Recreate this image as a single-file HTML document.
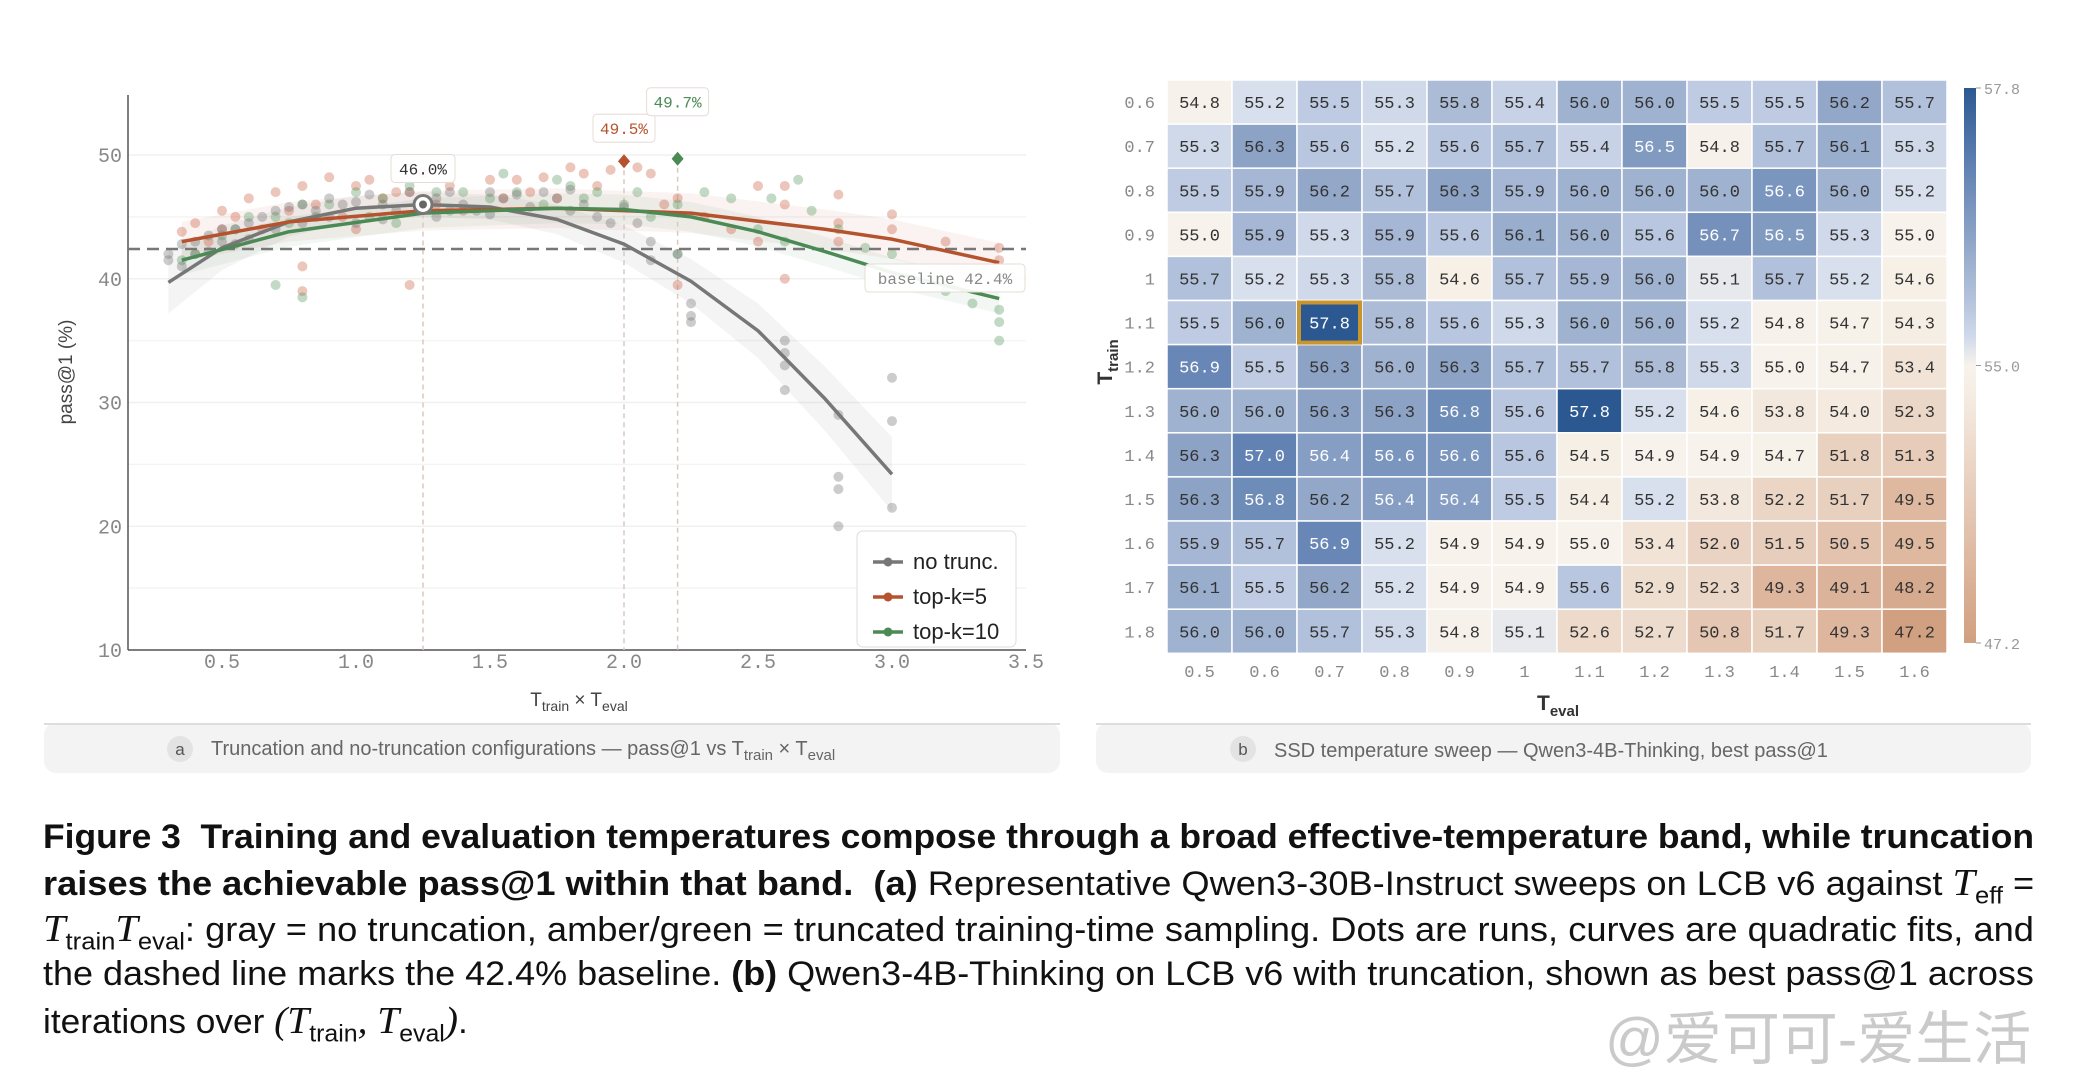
<!DOCTYPE html>
<html><head><meta charset="utf-8"><style>
body{margin:0;background:#fff;width:2085px;height:1080px;overflow:hidden;position:relative;font-family:"Liberation Sans",sans-serif}
svg{position:absolute;left:0;top:0}
.cap{position:absolute;left:43px;white-space:nowrap;font-size:34px;color:#111;transform-origin:0 50%;line-height:46px}
.m{font-family:"Liberation Serif",serif;font-style:italic;font-size:38px}
.m sub{font-family:"Liberation Sans",sans-serif;font-style:normal;font-size:24px}
</style></head><body>
<svg id="s" width="2085" height="1080" font-family="Liberation Mono, monospace"></svg>
<div class="cap" style="top:814px"><b>Figure 3&nbsp; Training and evaluation temperatures compose through a broad effective-temperature band, while truncation</b></div>
<div class="cap" style="top:860px"><b>raises the achievable pass@1 within that band.&nbsp; (a)</b> Representative Qwen3-30B-Instruct sweeps on LCB v6 against <span class="m">T<sub>eff</sub></span> =</div>
<div class="cap" style="top:906px"><span class="m">T<sub>train</sub>T<sub>eval</sub></span>: gray = no truncation, amber/green = truncated training-time sampling. Dots are runs, curves are quadratic fits, and</div>
<div class="cap" style="top:951px">the dashed line marks the 42.4% baseline. <b>(b)</b> Qwen3-4B-Thinking on LCB v6 with truncation, shown as best pass@1 across</div>
<div class="cap" style="top:998px">iterations over <span class="m">(T<sub>train</sub>, T<sub>eval</sub>)</span>.</div>
<div style="position:absolute;left:1605px;top:992px;font-size:58px;color:rgba(150,150,150,0.5);font-family:'Liberation Sans','Noto Sans CJK SC',sans-serif">@爱可可-爱生活</div>
<script>
// ---- panel a data ----
const grayX=[0.3,0.3,0.35,0.35,0.4,0.4,0.45,0.45,0.5,0.5,0.55,0.55,0.6,0.6,0.65,0.7,0.7,0.75,0.8,0.8,0.85,0.9,0.9,0.95,1.0,1.0,1.05,1.1,1.1,1.15,1.2,1.25,1.3,1.3,1.35,1.4,1.45,1.5,1.5,1.55,1.6,1.65,1.7,1.75,1.8,1.8,1.85,1.9,1.95,2.0,2.05,2.1,2.1,2.2,2.25,2.25,2.25,2.6,2.6,2.6,2.6,2.8,2.8,2.8,2.8,3.0,3.0,3.0];
const grayY=[42,41.5,42.8,41,43,42,43.5,42.2,44,43,44,42.8,44.5,43.2,45,45.5,44,45.8,46,44.5,45.5,46.5,45,46,46.2,44.5,46.8,46,44.8,45.5,47,46,46.5,45,47,46,45.5,47,45.2,46.5,46.8,45.8,47,46.5,47.2,45.5,46,45,44.5,45.8,44.5,43,41.5,42,38,37,36.5,35,34,33,31,29,24,23,20,32,28.5,21.5];
const orangeX=[0.35,0.4,0.45,0.5,0.5,0.55,0.6,0.65,0.7,0.75,0.8,0.8,0.85,0.9,0.95,1.0,1.0,1.05,1.1,1.15,1.2,1.25,1.3,1.35,1.4,1.5,1.55,1.6,1.65,1.7,1.75,1.8,1.85,1.9,1.95,2.05,2.1,2.15,2.2,2.2,2.3,2.4,2.5,2.5,2.6,2.6,2.6,2.8,2.8,2.8,3.0,3.0,3.2,3.4,3.4,0.8,1.2];
const orangeY=[43.8,44.5,43,45.5,44,45,46.5,44,47,45.5,47.5,41,46,48.2,45,47.5,44,48,46.5,47,47,48.5,46,47.5,45.5,48,46.5,48,47,48.2,46.5,49,48.5,47.5,48.8,49,48.5,46,46.5,39.5,45,44,47.5,43,47.5,46,40,46.8,44.5,43,45.2,44,43,42.5,41.5,39,39.5];
const greenX=[0.35,0.4,0.5,0.55,0.6,0.7,0.75,0.8,0.85,0.9,1.0,1.05,1.1,1.15,1.2,1.25,1.3,1.35,1.4,1.5,1.55,1.6,1.7,1.75,1.8,1.85,1.9,2.0,2.05,2.1,2.2,2.2,2.3,2.4,2.5,2.55,2.6,2.65,2.7,2.8,2.9,3.0,3.0,3.2,3.3,3.4,3.4,3.4,0.8,0.7];
const greenY=[41.5,42,43.5,44,45,45,44.5,46,45,46,47,45,46.5,44.5,47.5,46,47,45.5,47,46.5,48.5,47,46,48,47.5,46.5,47,46,47,45,46,42,47,46.5,44,46.5,43,48,45.5,44,42.5,42,40,39,38,37.5,36.5,35,38.5,39.5];
const grayFitX=[0.3,0.5,0.75,1.0,1.25,1.5,1.75,2.0,2.25,2.5,2.75,3.0];
const grayFitY=[39.7,42.5,44.6,45.7,46.0,45.8,44.8,42.8,39.8,35.8,30.3,24.2];
const grayBand=[2.5,1.8,1.2,1,1,1,1.2,1.5,1.8,2.2,2.6,3];
const orangeFitX=[0.35,0.75,1.25,1.75,2.25,2.75,3.0,3.4];
const orangeFitY=[43.0,44.6,45.5,45.7,45.3,44.0,43.2,41.3];
const greenFitX=[0.35,0.75,1.25,1.75,2.0,2.25,2.5,2.75,3.0,3.4];
const greenFitY=[41.5,43.8,45.3,45.7,45.6,45.0,43.8,42.2,40.5,38.4];
const xTicks=[0.5,1.0,1.5,2.0,2.5,3.0,3.5];
const yTicks=[10,20,30,40,50];
const baseline=42.4;
const peaks=[{x:1.25,y:46.0,label:"46.0%",c:"#444"},{x:2.0,y:49.5,label:"49.5%",c:"#b5532e"},{x:2.2,y:49.7,label:"49.7%",c:"#4b8a55"}];
// ---- panel b data ----
const evalTemps=["0.5","0.6","0.7","0.8","0.9","1","1.1","1.2","1.3","1.4","1.5","1.6"];
const trainTemps=["0.6","0.7","0.8","0.9","1","1.1","1.2","1.3","1.4","1.5","1.6","1.7","1.8"];
const heat=[
[54.8,55.2,55.5,55.3,55.8,55.4,56.0,56.0,55.5,55.5,56.2,55.7],
[55.3,56.3,55.6,55.2,55.6,55.7,55.4,56.5,54.8,55.7,56.1,55.3],
[55.5,55.9,56.2,55.7,56.3,55.9,56.0,56.0,56.0,56.6,56.0,55.2],
[55.0,55.9,55.3,55.9,55.6,56.1,56.0,55.6,56.7,56.5,55.3,55.0],
[55.7,55.2,55.3,55.8,54.6,55.7,55.9,56.0,55.1,55.7,55.2,54.6],
[55.5,56.0,57.8,55.8,55.6,55.3,56.0,56.0,55.2,54.8,54.7,54.3],
[56.9,55.5,56.3,56.0,56.3,55.7,55.7,55.8,55.3,55.0,54.7,53.4],
[56.0,56.0,56.3,56.3,56.8,55.6,57.8,55.2,54.6,53.8,54.0,52.3],
[56.3,57.0,56.4,56.6,56.6,55.6,54.5,54.9,54.9,54.7,51.8,51.3],
[56.3,56.8,56.2,56.4,56.4,55.5,54.4,55.2,53.8,52.2,51.7,49.5],
[55.9,55.7,56.9,55.2,54.9,54.9,55.0,53.4,52.0,51.5,50.5,49.5],
[56.1,55.5,56.2,55.2,54.9,54.9,55.6,52.9,52.3,49.3,49.1,48.2],
[56.0,56.0,55.7,55.3,54.8,55.1,52.6,52.7,50.8,51.7,49.3,47.2]];
const cbTicks=[57.8,55.0,47.2];
const best={r:5,c:2};

const S=document.getElementById('s');const NS="http://www.w3.org/2000/svg";
function E(t,a,p){const e=document.createElementNS(NS,t);for(const k in a)e.setAttribute(k,a[k]);(p||S).appendChild(e);return e;}
const X=v=>222+(v-0.5)*268, Y=v=>650-(v-10)*12.375;

let g=E('g',{});
E('rect',{x:44,y:723,width:1016,height:50,rx:12,fill:'#f3f3f3'},g);E('line',{x1:44,x2:1060,y1:724,y2:724,stroke:'#ddd','stroke-width':2},g);
E('circle',{cx:180,cy:749,r:13,fill:'#e3e3e3'},g);
let t=E('text',{x:180,y:755,'text-anchor':'middle','font-size':17,fill:'#555','font-family':'Liberation Sans'},g);t.textContent='a';
t=E('text',{x:211,y:755,'font-size':20,fill:'#666','font-family':'Liberation Sans'},g);t.innerHTML='Truncation and no-truncation configurations — pass@1 vs T<tspan dy="5" font-size="15">train</tspan><tspan dy="-5"> × T</tspan><tspan dy="5" font-size="15">eval</tspan>';
g=E('g',{});
E('rect',{x:1096,y:723,width:935,height:50,rx:12,fill:'#f3f3f3'},g);E('line',{x1:1096,x2:2031,y1:724,y2:724,stroke:'#ddd','stroke-width':2},g);
E('circle',{cx:1243,cy:749,r:13,fill:'#e3e3e3'},g);
t=E('text',{x:1243,y:755,'text-anchor':'middle','font-size':17,fill:'#555','font-family':'Liberation Sans'},g);t.textContent='b';
t=E('text',{x:1274,y:757,'font-size':20,fill:'#666','font-family':'Liberation Sans'},g);t.textContent='SSD temperature sweep — Qwen3-4B-Thinking, best pass@1';

yTicks.forEach(v=>{E('line',{x1:128,x2:1026,y1:Y(v),y2:Y(v),stroke:'#f0f0f0','stroke-width':1.5});
 const tt=E('text',{x:122,y:Y(v)+7,'text-anchor':'end','font-size':20,fill:'#888'});tt.textContent=v;
 });
[15,25,35,45].forEach(v=>E('line',{x1:128,x2:1026,y1:Y(v),y2:Y(v),stroke:'#f4f4f4','stroke-width':1.5}));
xTicks.forEach(v=>{const tt=E('text',{x:X(v),y:668,'text-anchor':'middle','font-size':20,fill:'#888'});tt.textContent=v.toFixed(1);
 });
E('line',{x1:128,x2:128,y1:95,y2:650,stroke:'#555','stroke-width':1.5});
E('line',{x1:128,x2:1026,y1:650,y2:650,stroke:'#555','stroke-width':1.5});
t=E('text',{x:579,y:706,'text-anchor':'middle','font-size':19,fill:'#444','font-family':'Liberation Sans'});t.innerHTML='T<tspan dy="5" font-size="14">train</tspan><tspan dy="-5"> × T</tspan><tspan dy="5" font-size="14">eval</tspan>';

t=E('text',{x:72,y:372,'text-anchor':'middle','font-size':19,fill:'#444','font-family':'Liberation Sans',transform:'rotate(-90 72 372)'});t.textContent='pass@1 (%)';


function band(xs,ys,ws,fill){let up=xs.map((x,i)=>X(x)+','+Y(ys[i]+ws[i])),dn=xs.map((x,i)=>X(x)+','+Y(ys[i]-ws[i])).reverse();
 const p=E('polygon',{points:up.concat(dn).join(' '),fill:fill});}
band(grayFitX,grayFitY,grayBand,'rgba(120,120,120,0.08)');
band(orangeFitX,orangeFitY,orangeFitX.map(()=>1.6),'rgba(190,90,50,0.07)');
band(greenFitX,greenFitY,greenFitX.map(()=>1.2),'rgba(70,140,80,0.07)');
peaks.forEach(p=>{const l=E('line',{x1:X(p.x),x2:X(p.x),y1:Y(p.y),y2:650,stroke:'#d9c9bf','stroke-width':1.5,'stroke-dasharray':'5 4'});
 });
function dots(xs,ys,c,name){xs.forEach((x,i)=>{const d=E('circle',{cx:X(x),cy:Y(ys[i]),r:5,fill:c});
 });}
dots(orangeX,orangeY,'rgba(200,90,60,0.35)','top-k5-run-dot');
dots(greenX,greenY,'rgba(80,150,90,0.35)','top-k10-run-dot');
dots(grayX,grayY,'rgba(110,110,110,0.35)','no-trunc-run-dot');
t=E('line',{x1:128,x2:1026,y1:Y(baseline),y2:Y(baseline),stroke:'#777','stroke-width':2.5,'stroke-dasharray':'12 7'});

function fit(xs,ys,c,name){const p=E('polyline',{points:xs.map((x,i)=>X(x)+','+Y(ys[i])).join(' '),fill:'none',stroke:c,'stroke-width':3.5,'stroke-linejoin':'round'});
 }
fit(grayFitX,grayFitY,'#777','no-trunc-fit');fit(orangeFitX,orangeFitY,'#b5532e','top-k5-fit');fit(greenFitX,greenFitY,'#4b8a55','top-k10-fit');
function lbl(x,y,w,txt,c,name){const gg=E('g',{});
 E('rect',{x:x-w/2,y:y-14,width:w,height:28,rx:4,fill:'rgba(255,255,255,0.92)',stroke:'#e6dcd5'},gg);
 const tx=E('text',{x:x,y:y+6,'text-anchor':'middle','font-size':16,fill:c},gg);tx.textContent=txt;}
let p0=peaks[0];E('circle',{cx:X(p0.x),cy:Y(p0.y),r:9,fill:'#fff',stroke:'#777','stroke-width':3});E('circle',{cx:X(p0.x),cy:Y(p0.y),r:4,fill:'#666'});
lbl(X(p0.x),Y(p0.y)-36,64,p0.label,'#333','peak-label-no-trunc');
[1,2].forEach(i=>{const p=peaks[i],cx=X(p.x),cy=Y(p.y);const d=E('polygon',{points:`${cx},${cy-7} ${cx+6},${cy} ${cx},${cy+7} ${cx-6},${cy}`,fill:p.c});
 });
lbl(X(2.0),Y(49.5)-33,62,'49.5%','#b5532e','peak-label-top-k5');
lbl(X(2.2),Y(49.7)-57,62,'49.7%','#4b8a55','peak-label-top-k10');
lbl(945,Y(baseline)+29,160,'baseline 42.4%','#888','baseline-label');
g=E('g',{});
E('rect',{x:857,y:531,width:159,height:116,rx:6,fill:'rgba(255,255,255,0.95)',stroke:'#ddd'},g);
[['no trunc.','#777'],['top-k=5','#b5532e'],['top-k=10','#4b8a55']].forEach((l,i)=>{const yy=562+i*35;
 const e=E('g',{},g);
 E('line',{x1:873,x2:903,y1:yy,y2:yy,stroke:l[1],'stroke-width':3.5},e);E('circle',{cx:888,cy:yy,r:4.5,fill:l[1]},e);
 const tx=E('text',{x:913,y:yy+7,'font-size':22,fill:'#222','font-family':'Liberation Sans'},e);tx.textContent=l[0];});

// ---- panel b ----
const hx0=1167,hy0=80,cw=65,ch=44.1;
function lerp(a,b,t){return a.map((v,i)=>Math.round(v+(b[i]-v)*t));}
function interp(stops,t){for(let i=1;i<stops.length;i++){if(t<=stops[i][0]){const s=stops[i-1],e=stops[i];return lerp(s[1],e[1],(t-s[0])/(e[0]-s[0]));}}return stops[stops.length-1][1];}
const hiStops=[[0,[247,243,236]],[0.07,[216,224,238]],[0.18,[190,203,226]],[0.45,[143,165,199]],[0.7,[100,132,180]],[1,[44,88,146]]];
const loStops=[[0,[247,243,236]],[0.1,[245,237,227]],[0.4,[233,210,193]],[0.7,[222,184,160]],[1,[208,160,128]]];
function color(v){const c=v>=55?interp(hiStops,(v-55)/2.8):interp(loStops,(55-v)/7.8);return `rgb(${c})`;}
heat.forEach((row,r)=>row.forEach((v,c)=>{const gg=E('g',{});
 E('rect',{x:hx0+c*cw,y:hy0+r*ch,width:cw,height:ch,fill:color(v),stroke:'#fff','stroke-width':1.5},gg);
 const tx=E('text',{x:hx0+c*cw+cw/2,y:hy0+r*ch+ch/2+6,'text-anchor':'middle','font-size':17,fill:v>=56.4?'#fff':'#333'},gg);tx.textContent=v.toFixed(1);}));
t=E('rect',{x:hx0+best.c*cw+2,y:hy0+best.r*ch+2,width:cw-4,height:ch-4,fill:'none',stroke:'#c8952e','stroke-width':4});

trainTemps.forEach((s,r)=>{const tx=E('text',{x:1155,y:hy0+r*ch+ch/2+6,'text-anchor':'end','font-size':17,fill:'#888'});tx.textContent=s;
 });
evalTemps.forEach((s,c)=>{const tx=E('text',{x:hx0+c*cw+cw/2,y:677,'text-anchor':'middle','font-size':17,fill:'#888'});tx.textContent=s;
 });
t=E('text',{x:1558,y:710,'text-anchor':'middle','font-size':21,fill:'#333','font-family':'Liberation Sans','font-weight':'bold'});t.innerHTML='T<tspan dy="6" font-size="15">eval</tspan>';

t=E('text',{x:1112,y:362,'text-anchor':'middle','font-size':21,fill:'#333','font-family':'Liberation Sans','font-weight':'bold',transform:'rotate(-90 1112 362)'});t.innerHTML='T<tspan dy="6" font-size="15">train</tspan>';

const defs=E('defs',{});const lg=E('linearGradient',{id:'cb',x1:0,y1:0,x2:0,y2:1},defs);
for(let k=0;k<=20;k++){const f=k/20;const v=f<=0.5?57.8-(f/0.5)*2.8:55-((f-0.5)/0.5)*7.8;E('stop',{offset:f,'stop-color':color(v)},lg);}
t=E('rect',{x:1964,y:88,width:12,height:555,fill:'url(#cb)'});
const cbY=v=>v>=55?88+(57.8-v)/2.8*277.5:365.5+(55-v)/7.8*277.5;
cbTicks.forEach(v=>{E('line',{x1:1976,x2:1981,y1:cbY(v),y2:cbY(v),stroke:'#999'});
 const tx=E('text',{x:1984,y:cbY(v)+6,'font-size':15,fill:'#999'});tx.textContent=v.toFixed(1);
 });

const targets=[1991,1991,1991,1991,null];
document.querySelectorAll('.cap').forEach((d,i)=>{const w=d.scrollWidth;d.style.transform=`scaleX(${(targets[i]||425)/w})`;});
</script>
</body></html>
